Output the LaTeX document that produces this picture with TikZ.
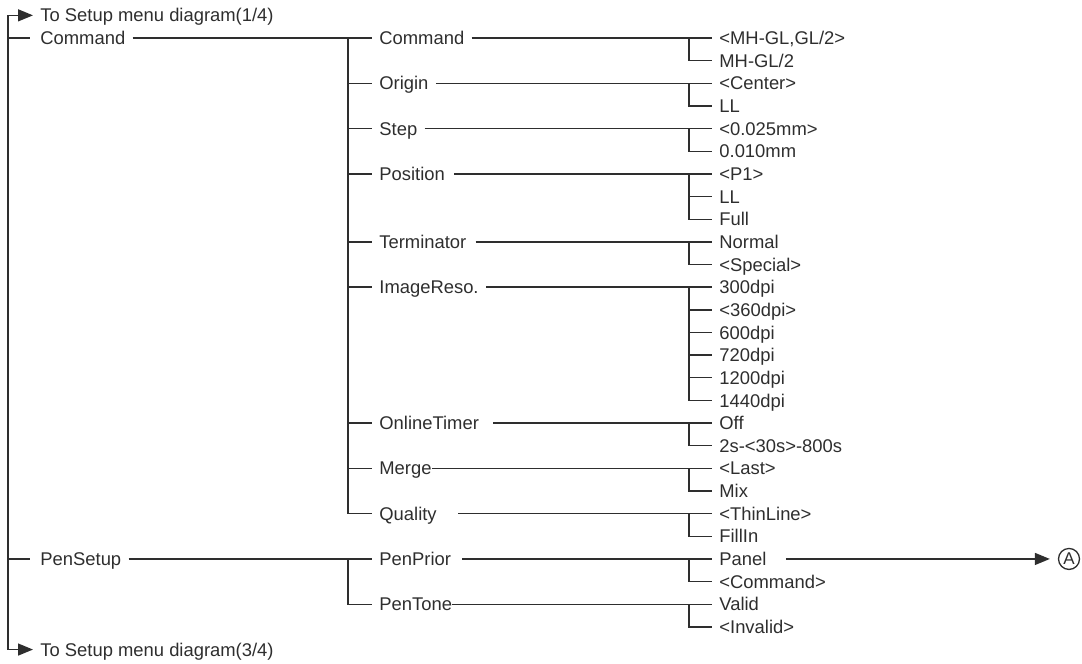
\documentclass[tikz,border=0pt]{standalone}
\usepackage{fontspec}
\setmainfont{Liberation Sans}
\usepackage{tikz}
\usetikzlibrary{arrows.meta,positioning}
\usepackage{xcolor}
\definecolor{menugray}{gray}{0.18}

\tikzset{
  item/.style={anchor=west, inner xsep=3.5pt, inner ysep=0pt, text height=6.6pt,
    text depth=0pt, text=menugray, font=\fontsize{9.2}{11}\selectfont},
  tree/.style={draw=menugray, line width=0.7pt},
  jump/.style={tree, -{Triangle[length=7.5pt,width=6pt]}},
  mark circle/.style={draw=menugray, circle, line width=0.65pt, minimum size=10.5pt,
    inner sep=0pt, text=menugray, font=\fontsize{8.5}{9}\selectfont}
}

\begin{document}
\begin{tikzpicture}[x=0.5pt,y=-11.325pt]
    \useasboundingbox (0,-0.678) rectangle (1082,28.638);
    \coordinate (busA) at (348,0);
    \coordinate (busB) at (689,0);
    % top level
    \node[item] (up)   at (33,0)  {To Setup menu diagram(1/4)};
    \node[item] (cmd)  at (33,1)  {Command};
    \node[item] (pen)  at (33,24) {PenSetup};
    \node[item] (down) at (33,28) {To Setup menu diagram(3/4)};
    \draw[jump] (8,14) |- (up.west);
    \draw[jump] (8,14) |- (down.west);
    \draw[tree, shorten >=1.5pt] (cmd.west -| 8,0) -- (cmd.west);
    \draw[tree, shorten >=1.5pt] (pen.west -| 8,0) -- (pen.west);
    % second level
    \foreach \n/\r/\t in {c1/1/Command, c2/3/Origin, c3/5/Step, c4/7/Position,
        c5/10/Terminator, c6/12/ImageReso., c7/18/OnlineTimer, c8/20/Merge,
        c9/22/Quality, p1/24/PenPrior, p2/26/PenTone}
      \node[item] (\n) at (372,\r) {\t};
    \draw[tree] (cmd.east) -- (c1.west);
    \draw[tree] (c1.west -| busA) |- (c9.west);
    \foreach \n in {c2,c3,c4,c5,c6,c7,c8}
      \draw[tree] (\n.west -| busA) -- (\n.west);
    \draw[tree] (pen.east) -- (p1.west);
    \draw[tree] (p1.west -| busA) |- (p2.west);
    % values
    \foreach \n/\r/\t in {c1a/1/{<MH-GL,GL/2>}, c1b/2/{MH-GL/2},
        c2a/3/{<Center>}, c2b/4/LL, c3a/5/{<0.025mm>}, c3b/6/{0.010mm},
        c4a/7/{<P1>}, c4b/8/LL, c4c/9/Full, c5a/10/Normal, c5b/11/{<Special>},
        c6a/12/300dpi, c6b/13/{<360dpi>}, c6c/14/600dpi, c6d/15/720dpi,
        c6e/16/1200dpi, c6f/17/1440dpi, c7a/18/Off, c7b/19/{2s-<30s>-800s},
        c8a/20/{<Last>}, c8b/21/Mix, c9a/22/{<ThinLine>}, c9b/23/FillIn,
        p1a/24/Panel, p1b/25/{<Command>}, p2a/26/Valid, p2b/27/{<Invalid>}}
      \node[item] (\n) at (712,\r) {\t};
    \foreach \a/\b/\s in {c1/c1a/0pt, c2/c2a/0pt, c3/c3a/0pt, c4/c4a/1pt,
        c5/c5a/1pt, c6/c6a/0pt, c7/c7a/3.5pt, c8/c8a/-3.5pt, c9/c9a/7pt,
        p1/p1a/2pt, p2/p2a/-3.5pt}
      \draw[tree, shorten <=\s] (\a.east) -- (\b.west);
    \foreach \a/\b in {c1a/c1b, c2a/c2b, c3a/c3b, c4a/c4c, c5a/c5b, c6a/c6f,
        c7a/c7b, c8a/c8b, c9a/c9b, p1a/p1b, p2a/p2b}
      \draw[tree] (\a.west -| busB) |- (\b.west);
    \foreach \n in {c4b,c6b,c6c,c6d,c6e}
      \draw[tree] (\n.west -| busB) -- (\n.west);
    % link to A
    \node[mark circle] (ptA) at (1069,24) {A};
    \draw[jump, shorten <=6pt, shorten >=4pt] (p1a.east) -- (ptA.west);
\end{tikzpicture}
\end{document}
